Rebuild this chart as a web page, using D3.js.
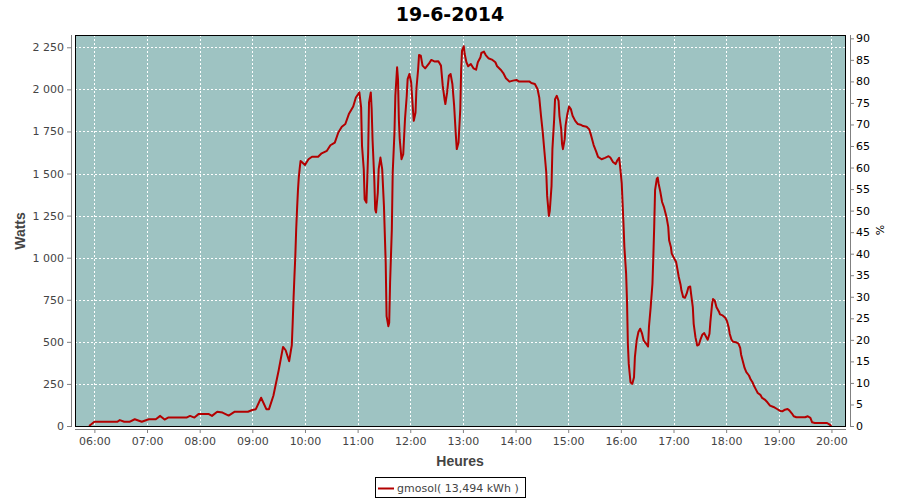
<!DOCTYPE html>
<html>
<head>
<meta charset="utf-8">
<script src="https://cdn.jsdelivr.net/npm/d3@7"></script>
<style>
  html, body { margin: 0; padding: 0; background: #fff; }
  svg { display: block; }
</style>
</head>
<body>
<svg id="chart" width="900" height="500"></svg>
<script>
// ---------------- DATA ----------------
const chartTitle = "19-6-2014";
const seriesName = "gmosol( 13,494 kWh )";
const xTitle = "Heures";
const yTitle = "Watts";
const y2Title = "%";

const times = [
"05:54","06:00","06:26","06:29","06:34","06:40","06:46","06:54","07:02","07:10",
"07:15","07:20","07:24","07:45","07:49","07:54","07:59","08:10","08:14","08:20",
"08:26","08:33","08:40","08:55","09:00","09:04","09:10","09:16","09:19","09:24",
"09:30","09:35","09:38","09:42","09:44","09:45","09:46","09:47","09:48","09:49",
"09:50","09:51","09:52","09:53","09:54","09:55","09:57","10:00","10:04","10:08",
"10:15","10:19","10:25","10:29","10:34","10:38","10:42","10:46","10:50","10:55",
"10:58","11:02","11:04","11:05","11:07","11:08","11:10","11:11","11:12","11:13",
"11:15","11:16","11:17","11:19","11:20","11:21","11:23","11:24","11:26","11:28",
"11:30","11:32","11:33","11:35","11:36","11:37","11:39","11:40","11:42","11:43",
"11:45","11:46","11:47","11:48","11:50","11:52","11:54","11:56","11:57","11:59",
"12:01","12:03","12:04","12:06","12:07","12:09","12:10","12:12","12:14","12:17",
"12:21","12:24","12:28","12:32","12:35","12:37","12:39","12:40","12:42","12:44",
"12:46","12:48","12:50","12:52","12:53","12:55","12:57","12:58","12:59","13:01",
"13:02","13:04","13:06","13:09","13:12","13:15","13:17","13:20","13:21","13:24",
"13:26","13:29","13:33","13:37","13:39","13:43","13:46","13:49","13:53","13:57",
"14:01","14:04","14:16","14:18","14:22","14:25","14:27","14:29","14:31","14:33",
"14:35","14:36","14:38","14:39","14:41","14:42","14:44","14:45","14:47","14:49",
"14:50","14:52","14:53","14:54","14:56","14:57","14:59","15:01","15:03","15:05",
"15:08","15:11","15:14","15:17","15:21","15:24","15:26","15:29","15:32","15:34",
"15:38","15:42","15:46","15:48","15:51","15:54","15:56","15:58","15:59","16:01",
"16:02","16:03","16:04","16:06","16:07","16:08","16:09","16:11","16:13","16:15",
"16:16","16:18","16:20","16:22","16:24","16:26","16:29","16:31","16:32","16:34",
"16:36","16:37","16:38","16:39","16:41","16:42","16:43","16:45","16:47","16:49",
"16:52","16:54","16:55","16:57","16:58","17:01","17:03","17:04","17:06","17:08",
"17:09","17:11","17:13","17:15","17:17","17:19","17:20","17:22","17:23","17:25",
"17:27","17:29","17:31","17:33","17:35","17:37","17:39","17:41","17:42","17:44",
"17:45","17:47","17:49","17:52","17:53","17:56","17:59","18:01","18:03","18:04",
"18:06","18:08","18:11","18:14","18:16","18:17","18:19","18:21","18:23","18:26",
"18:28","18:30","18:32","18:34","18:36","18:39","18:41","18:44","18:47","18:50",
"18:54","18:58","19:01","19:04","19:07","19:10","19:12","19:15","19:17","19:20",
"19:30","19:33","19:36","19:38","19:41","19:55","19:58","20:00"
];

const watts = [
0,25,25,35,25,25,40,25,40,40,
60,38,50,50,60,50,72,72,60,85,
80,62,85,85,95,100,168,100,100,180,
330,470,450,385,450,480,613,760,890,1010,
1169,1290,1400,1480,1530,1575,1565,1550,1585,1600,
1600,1620,1635,1668,1684,1744,1778,1794,1853,1898,
1952,1982,1893,1665,1526,1347,1327,1466,1625,1923,
1982,1883,1704,1466,1288,1268,1387,1526,1595,1526,
1308,970,653,593,613,851,1169,1506,1744,1962,
2131,2061,1823,1704,1585,1615,1823,1962,2061,2091,
2042,1883,1813,1863,2002,2121,2204,2200,2141,2125,
2151,2175,2165,2167,2141,2022,1943,1913,1982,2081,
2091,2032,1903,1724,1645,1684,1883,2121,2230,2256,
2210,2161,2137,2151,2125,2117,2161,2191,2216,2224,
2204,2185,2177,2161,2137,2117,2097,2066,2046,2052,
2056,2046,2046,2038,2032,2002,1952,1843,1744,1625,
1506,1367,1248,1278,1427,1645,1823,1942,1962,1932,
1843,1764,1675,1645,1704,1784,1853,1898,1883,1843,
1813,1794,1790,1782,1778,1762,1728,1669,1629,1599,
1585,1593,1603,1595,1569,1556,1579,1593,1550,1441,
1321,1202,1064,905,746,488,369,260,250,290,
409,508,558,578,552,508,488,472,587,706,
845,1004,1183,1401,1470,1476,1441,1391,1331,1302,
1242,1183,1103,1064,1024,994,974,945,885,841,
806,766,762,786,825,829,786,706,607,528,
478,484,518,544,552,532,512,548,617,726,
754,746,706,677,663,657,643,623,583,550,
514,500,498,490,464,425,385,345,320,300,
276,260,236,216,196,185,167,157,141,121,
113,101,91,87,97,101,93,74,58,52,
52,58,48,22,18,18,8,0
];

const xTickLabels = ["06:00","07:00","08:00","09:00","10:00","11:00","12:00","13:00",
                     "14:00","15:00","16:00","17:00","18:00","19:00","20:00"];
const yTicks = [0,250,500,750,1000,1250,1500,1750,2000,2250];
const y2Ticks = [0,5,10,15,20,25,30,35,40,45,50,55,60,65,70,75,80,85,90];

// ---------------- LAYOUT ----------------
const plot = { left: 75, right: 846, top: 35, bottom: 426 };
const bg = "#9ec3c2";
const lineColor = "#b30000";
const axisColor = "#808080";
const textColor = "#444444";
const font = "'DejaVu Sans', Verdana, sans-serif";

const parseT = d3.timeParse("%H:%M:%S");
const parseHM = d3.timeParse("%H:%M");
const data = times.map((t, i) => ({ t: parseHM(t), w: watts[i] }));

const x = d3.scaleTime()
  .domain([parseT("05:37:55"), parseT("20:16:35")])
  .range([plot.left, plot.right]);
const y = d3.scaleLinear().domain([0, 2323]).range([plot.bottom, plot.top]);
const y2 = d3.scaleLinear().domain([0, 90.77]).range([plot.bottom, plot.top]);

const locale = d3.formatLocale({ decimal: ",", thousands: " ", grouping: [3], currency: ["", ""] });
const fmtY = locale.format(",d");

const svg = d3.select("#chart");
svg.append("rect").attr("width", 900).attr("height", 500).attr("fill", "#fff");

// Title
svg.append("text")
  .attr("x", 450).attr("y", 21)
  .attr("text-anchor", "middle")
  .attr("font-family", font).attr("font-weight", "bold").attr("font-size", 19)
  .attr("fill", "#000")
  .text(chartTitle);

// Plot background
svg.append("rect")
  .attr("x", plot.left).attr("y", plot.top)
  .attr("width", plot.right - plot.left).attr("height", plot.bottom - plot.top)
  .attr("fill", bg);

// Grid lines
const grid = svg.append("g").attr("shape-rendering", "crispEdges");
grid.selectAll("line.v").data(xTickLabels).join("line")
  .attr("x1", d => Math.round(x(parseHM(d))) + 0.5)
  .attr("x2", d => Math.round(x(parseHM(d))) + 0.5)
  .attr("y1", plot.top).attr("y2", plot.bottom)
  .attr("stroke", "#fff").attr("stroke-width", 1).attr("stroke-dasharray", "2,2");
grid.selectAll("line.h").data(yTicks.filter(d => d > 0)).join("line")
  .attr("y1", d => Math.round(y(d)) + 0.5)
  .attr("y2", d => Math.round(y(d)) + 0.5)
  .attr("x1", plot.left).attr("x2", plot.right)
  .attr("stroke", "#fff").attr("stroke-width", 1).attr("stroke-dasharray", "2,2");

// Series line
const clipId = "plotclip";
svg.append("clipPath").attr("id", clipId).append("rect")
  .attr("x", plot.left).attr("y", plot.top)
  .attr("width", plot.right - plot.left).attr("height", plot.bottom - plot.top + 2);
svg.append("path")
  .datum(data)
  .attr("clip-path", `url(#${clipId})`)
  .attr("fill", "none")
  .attr("stroke", lineColor)
  .attr("stroke-width", 2)
  .attr("stroke-linejoin", "round")
  .attr("d", d3.line().x(d => x(d.t)).y(d => y(d.w)));

// Plot border
svg.append("rect")
  .attr("x", plot.left + 0.5).attr("y", plot.top + 0.5)
  .attr("width", plot.right - plot.left - 1).attr("height", plot.bottom - plot.top)
  .attr("fill", "none").attr("stroke", "#000").attr("stroke-width", 1)
  .attr("shape-rendering", "crispEdges");

// Left axis
const gL = svg.append("g").attr("transform", "translate(71,0)");
gL.call(d3.axisLeft(y).tickValues(yTicks).tickFormat(fmtY).tickSize(4).tickPadding(3));
gL.select(".domain").attr("d", `M0.5,${plot.top}V${plot.bottom + 1}`);
gL.selectAll("line").attr("stroke", axisColor);
gL.select(".domain").attr("stroke", axisColor);
gL.selectAll("text").attr("font-family", font).attr("font-size", 11).attr("fill", textColor);

// Right axis
const gR = svg.append("g").attr("transform", "translate(850,0)");
gR.call(d3.axisRight(y2).tickValues(y2Ticks).tickSize(4).tickPadding(2));
gR.select(".domain").attr("d", `M0.5,${plot.top}V${plot.bottom + 1}`);
gR.selectAll("line").attr("stroke", axisColor);
gR.select(".domain").attr("stroke", axisColor);
gR.selectAll("text").attr("font-family", font).attr("font-size", 11).attr("fill", "#000");

// Bottom axis
const gB = svg.append("g").attr("transform", "translate(0,429)");
gB.call(d3.axisBottom(x).tickValues(xTickLabels.map(parseHM))
  .tickFormat(d3.timeFormat("%H:%M")).tickSize(4).tickPadding(4));
gB.select(".domain").attr("d", `M${plot.left},0.5H${plot.right}`);
gB.selectAll("line").attr("stroke", axisColor);
gB.select(".domain").attr("stroke", axisColor);
gB.selectAll("text").attr("font-family", font).attr("font-size", 11).attr("fill", textColor);

// Axis titles
svg.append("text")
  .attr("x", 460).attr("y", 466)
  .attr("text-anchor", "middle")
  .attr("font-family", "'Liberation Sans', Arial, sans-serif").attr("font-weight", "bold").attr("font-size", 14)
  .attr("fill", textColor)
  .text(xTitle);
svg.append("text")
  .attr("transform", "translate(25,231) rotate(-90)")
  .attr("text-anchor", "middle")
  .attr("font-family", "'Liberation Sans', Arial, sans-serif").attr("font-weight", "bold").attr("font-size", 14)
  .attr("fill", textColor)
  .text(yTitle);
svg.append("text")
  .attr("transform", "translate(884,230) rotate(-90)")
  .attr("text-anchor", "middle")
  .attr("font-family", font).attr("font-size", 11)
  .attr("fill", "#000")
  .text(y2Title);

// Legend
const lg = svg.append("g");
lg.append("rect")
  .attr("x", 375.5).attr("y", 477.5).attr("width", 150).attr("height", 20)
  .attr("fill", "#fff").attr("stroke", "#000").attr("stroke-width", 1)
  .attr("shape-rendering", "crispEdges");
lg.append("line")
  .attr("x1", 378).attr("x2", 394).attr("y1", 488.5).attr("y2", 488.5)
  .attr("stroke", lineColor).attr("stroke-width", 2);
lg.append("text")
  .attr("x", 397).attr("y", 492)
  .attr("font-family", font).attr("font-size", 11).attr("fill", textColor)
  .text(seriesName);
</script>
</body>
</html>
